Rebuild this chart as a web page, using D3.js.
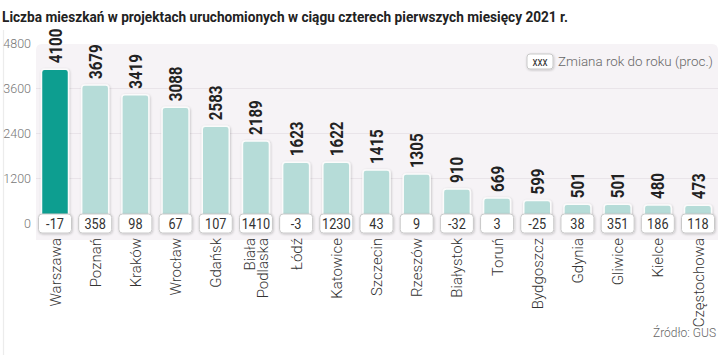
<!DOCTYPE html>
<html><head><meta charset="utf-8">
<script src="https://cdn.jsdelivr.net/npm/d3@7/dist/d3.min.js"></script>
<style>
html,body{margin:0;padding:0;background:#fff;}
svg{display:block;}
</style></head>
<body>
<svg id="c" width="720" height="355"></svg>
<script>
const categories = ["Warszawa","Poznań","Kraków","Wrocław","Gdańsk","Biała Podlaska","Łódź","Katowice","Szczecin","Rzeszów","Białystok","Toruń","Bydgoszcz","Gdynia","Gliwice","Kielce","Częstochowa"];
const flats = [4100,3679,3419,3088,2583,2189,1623,1622,1415,1305,910,669,599,501,501,480,473];
const yoyChange = [-17,358,98,67,107,1410,-3,1230,43,9,-32,3,-25,38,351,186,118];
const yTicks = [0,1200,2400,3600,4800];
const titleText = "Liczba mieszkań w projektach uruchomionych w ciągu czterech pierwszych miesięcy 2021 r.";
const legendText = "Zmiana rok do roku (proc.)";
const sourceText = "Źródło: GUS";

const svg = d3.select("#c");
const sans = "Roboto,'Noto Sans',sans-serif";

const defs = svg.append("defs");
const f = defs.append("filter").attr("id","sh").attr("x","-20%").attr("y","-20%").attr("width","140%").attr("height","140%");
f.append("feDropShadow").attr("dx",0.6).attr("dy",0.8).attr("stdDeviation",0.8).attr("flood-color","#000").attr("flood-opacity",0.22);

svg.append("line").attr("x1",3.5).attr("x2",3.5).attr("y1",30).attr("y2",355).attr("stroke","#ececec").attr("stroke-width",1.2);

const y = d3.scaleLinear().domain([0,4800]).range([223,43]);
const x = d3.scalePoint().domain(categories).range([55,698]);
const bw = 27, boxW = 33;

svg.append("path")
  .attr("d", (()=>{const x0=36,x1=718,y0=44,y1=240,r=6;
     return `M${x0},${y1}L${x0},${y0+r}Q${x0},${y0} ${x0+r},${y0}L${x1-r},${y0}Q${x1},${y0} ${x1},${y0+r}L${x1},${y1}Z`;})())
  .attr("fill","#f6f3f6");

svg.append("g").selectAll("line").data(yTicks.filter(t=>t>0 && t<4800)).join("line")
  .attr("x1",36).attr("x2",718).attr("y1",d=>Math.round(y(d))+0.5).attr("y2",d=>Math.round(y(d))+0.5)
  .attr("stroke","#e9e4e9").attr("stroke-width",1);

const yAxis = d3.axisLeft(y).tickValues(yTicks).tickSize(0).tickPadding(0).tickFormat(d3.format("d"));
const ga = svg.append("g").attr("transform","translate(31,0)").call(yAxis);
ga.select(".domain").remove();
ga.selectAll("text").attr("font-family",sans).attr("font-size",12.5).attr("fill","#777").attr("font-weight",300);

function barPath(cx, top, bottom, w, r){
  const x0=cx-w/2, x1=cx+w/2;
  return `M${x0},${bottom}L${x0},${top+r}Q${x0},${top} ${x0+r},${top}L${x1-r},${top}Q${x1},${top} ${x1},${top+r}L${x1},${bottom}Z`;
}
svg.append("g").selectAll("path").data(categories).join("path")
  .attr("d",(d,i)=>barPath(x(d), y(flats[i]), y(0), bw, 3))
  .attr("fill",(d,i)=>i===0?"#0f9e90":"#b6dcd8")
  .attr("stroke","#fbfbfb").attr("stroke-width",1.5)
  .attr("filter","url(#sh)");

svg.append("g").selectAll("text").data(categories).join("text")
  .attr("transform",(d,i)=>`translate(${x(d)+6.5},${y(flats[i])-6}) rotate(-90) scale(0.84,1)`)
  .attr("font-family",sans).attr("font-weight","bold").attr("font-size",18)
  .attr("fill","#222").text((d,i)=>flats[i]);

const gb = svg.append("g");
gb.selectAll("rect").data(categories).join("rect")
  .attr("x",d=>x(d)-boxW/2).attr("y",214).attr("width",boxW).attr("height",19).attr("rx",3.5)
  .attr("fill","#fff").attr("stroke","#c9c9c9").attr("stroke-width",1).attr("filter","url(#sh)");
gb.selectAll("text").data(categories).join("text")
  .attr("transform",d=>`translate(${x(d)},229) scale(0.82,1)`).attr("text-anchor","middle")
  .attr("font-family",sans).attr("font-size",15.5).attr("fill","#333")
  .text((d,i)=>yoyChange[i]);

const gc = svg.append("g");
categories.forEach((c)=>{
  const parts = c === "Biała Podlaska" ? ["Biała","Podlaska"] : [c];
  const lh = 13.5;
  parts.forEach((p,j)=>{
    const off = (j-(parts.length-1)/2)*lh;
    gc.append("text")
      .attr("transform",`translate(${x(c)+5.5+off},238) rotate(-90)`)
      .attr("text-anchor","end")
      .attr("font-family",sans).attr("font-size",15).attr("font-weight",300).attr("fill","#333")
      .text(p);
  });
});

svg.append("text").attr("x",2).attr("y",22)
  .attr("font-family",sans).attr("font-weight","bold").attr("font-size",15).attr("fill","#222")
  .attr("textLength",566).attr("lengthAdjust","spacingAndGlyphs")
  .text(titleText);

svg.append("rect").attr("x",527).attr("y",54).attr("width",26).attr("height",15).attr("rx",3)
  .attr("fill","#fff").attr("stroke","#c9c9c9").attr("filter","url(#sh)");
svg.append("text").attr("transform","translate(540,65.5) scale(0.85,1)").attr("text-anchor","middle")
  .attr("font-family",sans).attr("font-size",12).attr("fill","#333").text("xxx");
svg.append("text").attr("x",713).attr("y",66).attr("text-anchor","end")
  .attr("font-family",sans).attr("font-size",13.5).attr("font-weight",300).attr("fill","#666")
  .attr("textLength",155).attr("lengthAdjust","spacingAndGlyphs").text(legendText);

svg.append("text").attr("x",716).attr("y",337).attr("text-anchor","end")
  .attr("font-family",sans).attr("font-size",12).attr("font-weight",300).attr("fill","#666").text(sourceText);
</script>
</body></html>
